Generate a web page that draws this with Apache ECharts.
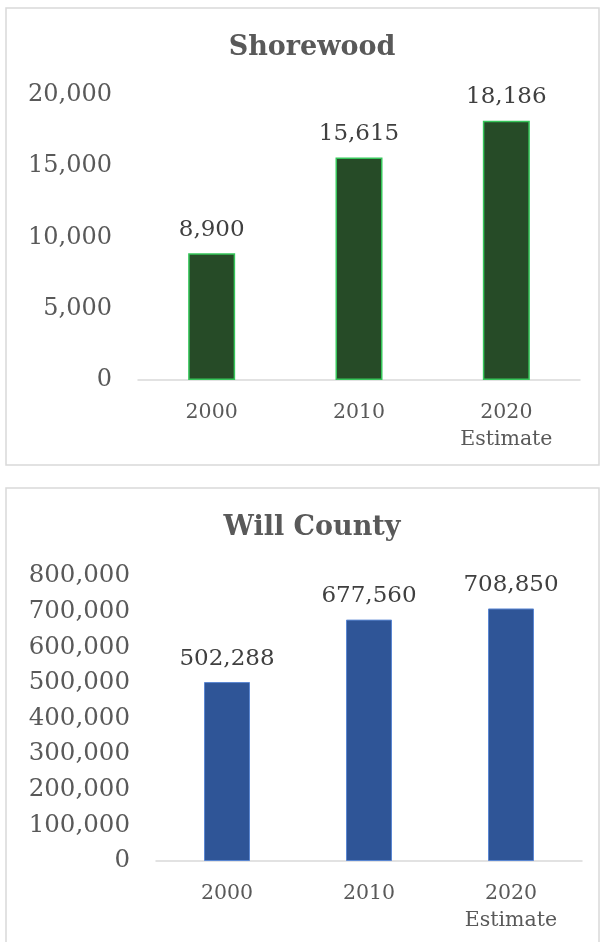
<!DOCTYPE html>
<html>
<head>
<meta charset="utf-8">
<title>Population</title>
<script src="https://cdn.jsdelivr.net/npm/echarts@6/dist/echarts.min.js"></script>
<style>
  html, body { margin: 0; padding: 0; background: #ffffff; }
  #chart { width: 604px; height: 942px; }
</style>
</head>
<body>
<div id="chart"></div>
<script>
// Population by census year
const categories = ['2000', '2010', '2020\nEstimate'];
const shorewoodValues = [8900, 15615, 18186];
const willCountyValues = [502288, 677560, 708850];
const shorewoodTicks = { max: 20000, interval: 5000 };
const willCountyTicks = { max: 800000, interval: 100000 };

const FONT = "'DejaVu Serif', Georgia, serif";
const TEXT = '#595959';
const fmt = v => v.toLocaleString('en-US');

const chart = echarts.init(document.getElementById('chart'), null, { renderer: 'canvas' });

function xAxis(gridIndex) {
  return {
    type: 'category', gridIndex, data: categories,
    axisLine: { lineStyle: { color: '#d9d9d9', width: 1.5 } },
    axisTick: { show: false },
    axisLabel: { color: TEXT, fontFamily: FONT, fontSize: 20.5, margin: 19, lineHeight: 27 }
  };
}
function yAxis(gridIndex, ticks, size) {
  return {
    type: 'value', gridIndex, min: 0, max: ticks.max, interval: ticks.interval,
    axisLine: { show: false }, axisTick: { show: false }, splitLine: { show: false },
    axisLabel: { color: TEXT, fontFamily: FONT, fontSize: size, margin: 26, formatter: fmt }
  };
}
function barLabel() {
  return {
    show: true, position: 'top', distance: 12, color: '#404040',
    fontFamily: FONT, fontSize: 23, formatter: p => fmt(p.value)
  };
}

chart.setOption({
  backgroundColor: '#ffffff',
  animation: false,
  graphic: [
    { type: 'rect', shape: { x: 6, y: 8, width: 593, height: 457 },
      style: { fill: 'none', stroke: '#d9d9d9', lineWidth: 1.5 } },
    { type: 'rect', shape: { x: 6, y: 488, width: 593, height: 470 },
      style: { fill: 'none', stroke: '#d9d9d9', lineWidth: 1.5 } }
  ],
  title: [
    { text: 'Shorewood', left: 307, top: 29, textAlign: 'center',
      textStyle: { color: TEXT, fontFamily: FONT, fontWeight: 'bold', fontSize: 27 } },
    { text: 'Will County', left: 307, top: 509, textAlign: 'center',
      textStyle: { color: TEXT, fontFamily: FONT, fontWeight: 'bold', fontSize: 27 } }
  ],
  grid: [
    { left: 138, right: 24, top: 95, bottom: 562 },
    { left: 156, right: 22, top: 576, bottom: 81 }
  ],
  xAxis: [xAxis(0), xAxis(1)],
  yAxis: [yAxis(0, shorewoodTicks, 24), yAxis(1, willCountyTicks, 24.5)],
  series: [
    { type: 'bar', name: 'Shorewood', xAxisIndex: 0, yAxisIndex: 0,
      data: shorewoodValues, barWidth: 47,
      itemStyle: { color: '#264b27', borderColor: '#36c65a', borderWidth: 1.5 },
      label: barLabel() },
    { type: 'bar', name: 'Will County', xAxisIndex: 1, yAxisIndex: 1,
      data: willCountyValues, barWidth: 46,
      itemStyle: { color: '#2f5597', borderColor: '#5b87d2', borderWidth: 1 },
      label: barLabel() }
  ]
});
</script>
</body>
</html>
